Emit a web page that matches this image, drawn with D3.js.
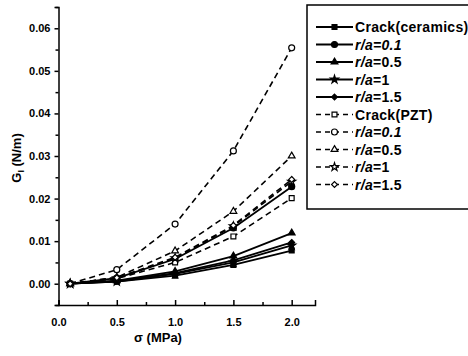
<!DOCTYPE html>
<html>
<head>
<meta charset="utf-8">
<script src="https://cdn.jsdelivr.net/npm/d3@7"></script>
<style>
  html, body { margin: 0; padding: 0; background: #fff; }
  svg { display: block; font-family: "Liberation Sans", Arial, sans-serif; font-weight: bold; }
  .axis path, .axis line { stroke: #000; stroke-width: 1.5; }
  .axis text { font-size: 11px; font-weight: bold; fill: #000; }
</style>
</head>
<body>
<svg id="chart" width="468" height="356"></svg>
<script>
// stress values (MPa)
const sigma = [0.1, 0.5, 1.0, 1.5, 2.0];

// ceramics (solid lines)
const crackCeramics = [0, 0.0005, 0.0019, 0.0044, 0.0078];
const ceramics01    = [0, 0.0013, 0.0058, 0.0131, 0.0228];
const ceramics05    = [0, 0.0007, 0.0029, 0.0065, 0.0119];
const ceramics1     = [0, 0.0005, 0.0023, 0.0050, 0.0090];
const ceramics15    = [0, 0.0006, 0.0025, 0.0055, 0.0097];

// PZT (dashed lines)
const crackPZT = [0, 0.0012, 0.0050, 0.0111, 0.0201];
const pzt01    = [0, 0.0033, 0.0140, 0.0312, 0.0554];
const pzt05    = [0, 0.0015, 0.0077, 0.0170, 0.0300];
const pzt1     = [0, 0.0013, 0.0060, 0.0135, 0.0240];
const pzt15    = [0, 0.0014, 0.0062, 0.0137, 0.0245];

const xTicks = [0.0, 0.5, 1.0, 1.5, 2.0];
const yTicks = [0.00, 0.01, 0.02, 0.03, 0.04, 0.05, 0.06];

const series = [
  { name: 'Crack(ceramics)', ra: null,  vals: crackCeramics, sym: d3.symbolSquare,   open: false, dash: false },
  { name: '=0.1',            ra: 'r/a', vals: ceramics01,    sym: d3.symbolCircle,   open: false, dash: false, ital: true },
  { name: '=0.5',            ra: 'r/a', vals: ceramics05,    sym: d3.symbolTriangle, open: false, dash: false },
  { name: '=1',              ra: 'r/a', vals: ceramics1,     sym: d3.symbolStar,     open: false, dash: false },
  { name: '=1.5',            ra: 'r/a', vals: ceramics15,    sym: d3.symbolDiamond2, open: false, dash: false },
  { name: 'Crack(PZT)',      ra: null,  vals: crackPZT,      sym: d3.symbolSquare,   open: true,  dash: true },
  { name: '=0.1',            ra: 'r/a', vals: pzt01,         sym: d3.symbolCircle,   open: true,  dash: true, ital: true },
  { name: '=0.5',            ra: 'r/a', vals: pzt05,         sym: d3.symbolTriangle, open: true,  dash: true },
  { name: '=1',              ra: 'r/a', vals: pzt1,          sym: d3.symbolStar,     open: true,  dash: true },
  { name: '=1.5',            ra: 'r/a', vals: pzt15,         sym: d3.symbolDiamond2, open: true,  dash: true }
];

const svg = d3.select('#chart');

const x = d3.scaleLinear().domain([0, 2.2]).range([58.5, 315]);
const y = d3.scaleLinear().domain([-0.005, 0.065]).range([305, 7]);

function symSize(s) {
  if (s === d3.symbolStar) return 20;
  if (s === d3.symbolTriangle) return 20;
  if (s === d3.symbolDiamond2) return 22;
  if (s === d3.symbolCircle) return 28;
  return 24;
}

// Axes
const yAxis = svg.append('g').attr('class', 'axis').attr('transform', `translate(${x(0)},0)`);
yAxis.call(d3.axisLeft(y).tickValues(yTicks).tickSize(4).tickPadding(4).tickFormat(d3.format('.2f')));
yAxis.append('g').call(d3.axisLeft(y).tickValues(d3.range(-0.005, 0.066, 0.01)).tickSize(3).tickFormat(''))
  .select('.domain').remove();

const xAxis = svg.append('g').attr('class', 'axis').attr('transform', `translate(0,${y(-0.005)})`);
xAxis.call(d3.axisBottom(x).tickValues(xTicks).tickSize(-5).tickPadding(13).tickFormat(d3.format('.1f')));
xAxis.append('g').call(d3.axisBottom(x).tickValues([0.25, 0.75, 1.25, 1.75]).tickSize(-3).tickFormat(''))
  .select('.domain').remove();

// Axis titles
svg.append('text')
  .attr('x', 158).attr('y', 342)
  .attr('text-anchor', 'middle').attr('font-size', 13)
  .text('σ (MPa)');

const yTitle = svg.append('text')
  .attr('transform', 'translate(21,158) rotate(-90)')
  .attr('text-anchor', 'middle').attr('font-size', 13);
yTitle.append('tspan').text('G');
yTitle.append('tspan').attr('font-size', 9).attr('dy', 3).text('I');
yTitle.append('tspan').attr('dy', -3).text(' (N/m)');

// Lines + markers
const line = d3.line().x((d, i) => x(sigma[i])).y(d => y(d));
const plot = svg.append('g');

series.forEach(s => {
  plot.append('path')
    .datum(s.vals)
    .attr('d', line)
    .attr('fill', 'none')
    .attr('stroke', '#000')
    .attr('stroke-width', s.dash ? 1.6 : 1.8)
    .attr('stroke-dasharray', s.dash ? '6,4' : null);
});

series.forEach(s => {
  plot.selectAll(null)
    .data(s.vals)
    .enter().append('path')
    .attr('transform', (d, i) => `translate(${x(sigma[i])},${y(d)})`)
    .attr('d', d3.symbol().type(s.sym).size(symSize(s.sym)))
    .attr('fill', s.open ? '#fff' : '#000')
    .attr('stroke', '#000')
    .attr('stroke-width', 1.2);
});

// Legend
const legend = svg.append('g');
legend.append('rect')
  .attr('x', 307).attr('y', 5)
  .attr('width', 170).attr('height', 204)
  .attr('fill', '#fff').attr('stroke', '#000').attr('stroke-width', 1.5);

const rowY = d3.scaleLinear().domain([0, 9]).range([27, 184.5]);

series.forEach((s, i) => {
  const ry = rowY(i);
  legend.append('line')
    .attr('x1', 316).attr('x2', 353)
    .attr('y1', ry).attr('y2', ry)
    .attr('stroke', '#000')
    .attr('stroke-width', s.dash ? 1.6 : 1.8)
    .attr('stroke-dasharray', s.dash ? '5,4' : null);
  legend.append('path')
    .attr('transform', `translate(334.5,${ry})`)
    .attr('d', d3.symbol().type(s.sym).size(symSize(s.sym)))
    .attr('fill', s.open ? '#fff' : '#000')
    .attr('stroke', '#000')
    .attr('stroke-width', 1.2);
  const t = legend.append('text')
    .attr('x', 355).attr('y', ry + 5)
    .attr('font-size', 14)
    .attr('letter-spacing', 0.3);
  if (s.ra) {
    t.append('tspan').attr('font-style', 'italic').text(s.ra);
    t.append('tspan').attr('font-style', s.ital ? 'italic' : null).text(s.name);
  } else {
    t.text(s.name);
  }
});
</script>
</body>
</html>
